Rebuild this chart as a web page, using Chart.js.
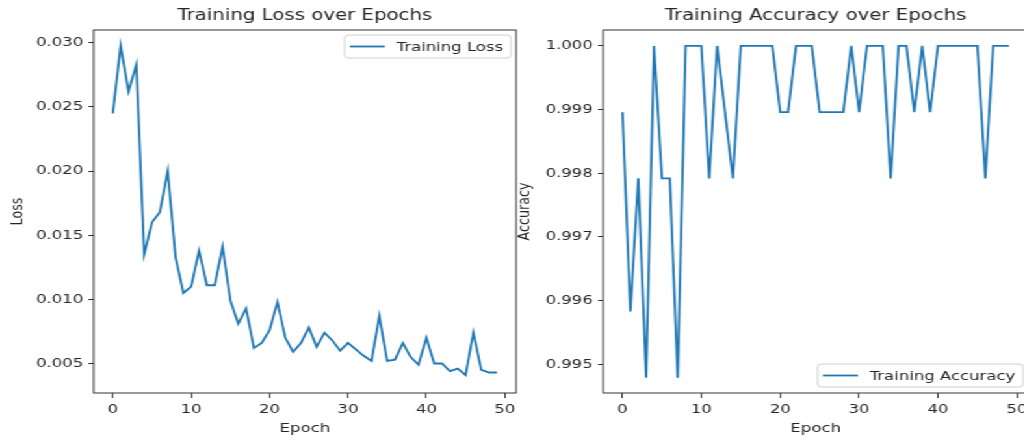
<!DOCTYPE html>
<html>
<head>
<meta charset="utf-8">
<script src="https://cdn.jsdelivr.net/npm/chart.js@4.4.1/dist/chart.umd.min.js"></script>
<style>
  html, body { margin: 0; padding: 0; background: #fff; overflow: hidden; }
  /* the reference is a matplotlib figure squeezed into 1024x439, so stretch it the same way */
  #stage { position: relative; width: 788px; height: 439px; transform: scaleX(1.3); transform-origin: 0 0; }
  .panel { position: absolute; top: 0; height: 439px; }
  #lossBox { left: 0; width: 408px; }
  #accBox { left: 388px; width: 412px; }
</style>
</head>
<body>
<div id="stage">
  <div class="panel" id="lossBox"><canvas id="lossChart"></canvas></div>
  <div class="panel" id="accBox"><canvas id="accChart"></canvas></div>
</div>
<script>
const epochs = Array.from({ length: 50 }, (_, i) => i);

const lossValues = [
  0.0245, 0.0298, 0.0262, 0.0283, 0.0135, 0.0160, 0.0168, 0.0200, 0.0133, 0.0105,
  0.0110, 0.0138, 0.0111, 0.0111, 0.0141, 0.0099, 0.0081, 0.0093, 0.0062, 0.0066,
  0.0076, 0.0098, 0.0070, 0.0059, 0.0066, 0.0078, 0.0063, 0.0074, 0.0068, 0.0060,
  0.0066, 0.0061, 0.0056, 0.0052, 0.0087, 0.0052, 0.0053, 0.0066, 0.0055, 0.0049,
  0.0070, 0.0050, 0.0050, 0.0044, 0.0046, 0.0041, 0.0074, 0.0045, 0.0043, 0.0043
];

const accuracyValues = [
  0.99896, 0.99583, 0.99792, 0.99479, 1.0, 0.99792, 0.99792, 0.99479, 1.0, 1.0,
  1.0, 0.99792, 1.0, 0.99896, 0.99792, 1.0, 1.0, 1.0, 1.0, 1.0,
  0.99896, 0.99896, 1.0, 1.0, 1.0, 0.99896, 0.99896, 0.99896, 0.99896, 1.0,
  0.99896, 1.0, 1.0, 1.0, 0.99792, 1.0, 1.0, 0.99896, 1.0, 0.99896,
  1.0, 1.0, 1.0, 1.0, 1.0, 1.0, 0.99792, 1.0, 1.0, 1.0
];

const epochTicks = [0, 10, 20, 30, 40, 50];
const lossTicks = [0.005, 0.010, 0.015, 0.020, 0.025, 0.030];
const accuracyTicks = [0.995, 0.996, 0.997, 0.998, 0.999, 1.000];

const LINE = "#1f77b4";
const INK = "#262626";
const FONT = "'DejaVu Sans', sans-serif";

Chart.defaults.font.family = FONT;
Chart.defaults.font.size = 12.7;
Chart.defaults.color = INK;

// box round the plot, the subplot title and a matplotlib-like legend inside the axes
const axesDecor = {
  id: "axesDecor",
  afterDraw(chart, args, opts) {
    const { ctx, chartArea: a } = chart;
    ctx.save();
    ctx.strokeStyle = "#333";
    ctx.lineWidth = 1;
    ctx.strokeRect(a.left, a.top, a.right - a.left, a.bottom - a.top);

    ctx.fillStyle = INK;
    ctx.font = "15.2px " + FONT;
    ctx.textAlign = "center";
    ctx.textBaseline = "middle";
    ctx.fillText(opts.title, (a.left + a.right) / 2, 16);

    const label = chart.data.datasets[0].label;
    ctx.font = "12.7px " + FONT;
    const w = 4 + 27 + 9 + ctx.measureText(label).width + 6;
    const h = 23;
    const x = a.right - 4 - w;
    const y = opts.legend === "upper" ? a.top + 5 : a.bottom - 6 - h;
    ctx.beginPath();
    ctx.roundRect(x, y, w, h, 3);
    ctx.fillStyle = "rgba(255,255,255,0.8)";
    ctx.fill();
    ctx.strokeStyle = "#d0d0d0";
    ctx.stroke();

    ctx.beginPath();
    ctx.moveTo(x + 4, y + h / 2);
    ctx.lineTo(x + 31, y + h / 2);
    ctx.strokeStyle = LINE;
    ctx.lineWidth = 1.8;
    ctx.stroke();

    ctx.fillStyle = INK;
    ctx.textAlign = "left";
    ctx.fillText(label, x + 40, y + h / 2 + 1);
    ctx.restore();
  },
};

function makeScales(yMin, yMax, yTicks, yTitle, yWidth, yTitlePad) {
  return {
    x: {
      type: "linear",
      min: -2.45,
      max: 51.45,
      afterBuildTicks: (scale) => { scale.ticks = epochTicks.map((v) => ({ value: v })); },
      afterFit: (scale) => { scale.height = 46; },
      border: { display: false },
      grid: { drawOnChartArea: false, drawTicks: true, tickLength: 5, color: "#333" },
      ticks: { padding: 4, autoSkip: false, maxRotation: 0, callback: (v) => String(v) },
      title: { display: true, text: "Epoch", padding: { top: 0, bottom: 3 } },
    },
    y: {
      min: yMin,
      max: yMax,
      afterBuildTicks: (scale) => { scale.ticks = yTicks.map((v) => ({ value: v })); },
      afterFit: (scale) => { scale.width = yWidth; },
      border: { display: false },
      grid: { drawOnChartArea: false, drawTicks: true, tickLength: 4, color: "#333" },
      ticks: { padding: 4, autoSkip: false, callback: (v) => Number(v).toFixed(3) },
      title: { display: true, text: yTitle, padding: { top: yTitlePad, bottom: 0 } },
    },
  };
}

function makeChart(id, label, values, scales, decor, padRight) {
  new Chart(document.getElementById(id), {
    type: "line",
    data: {
      datasets: [
        {
          label: label,
          data: epochs.map((e, i) => ({ x: e, y: values[i] })),
          borderColor: LINE,
          borderWidth: 1.8,
          pointRadius: 0,
          tension: 0,
          fill: false,
        },
      ],
    },
    options: {
      responsive: true,
      maintainAspectRatio: false,
      animation: false,
      layout: { padding: { top: 30, right: padRight, bottom: 0, left: 0 } },
      scales: scales,
      plugins: {
        legend: { display: false },
        tooltip: { enabled: false },
        axesDecor: decor,
      },
    },
    plugins: [axesDecor],
  });
}

makeChart(
  "lossChart",
  "Training Loss",
  lossValues,
  makeScales(0.0027, 0.0310, lossTicks, "Loss", 72, 6),
  { title: "Training Loss over Epochs", legend: "upper" },
  11
);

makeChart(
  "accChart",
  "Training Accuracy",
  accuracyValues,
  makeScales(0.99455, 1.00025, accuracyTicks, "Accuracy", 76, 8),
  { title: "Training Accuracy over Epochs", legend: "lower" },
  9
);
</script>
</body>
</html>
